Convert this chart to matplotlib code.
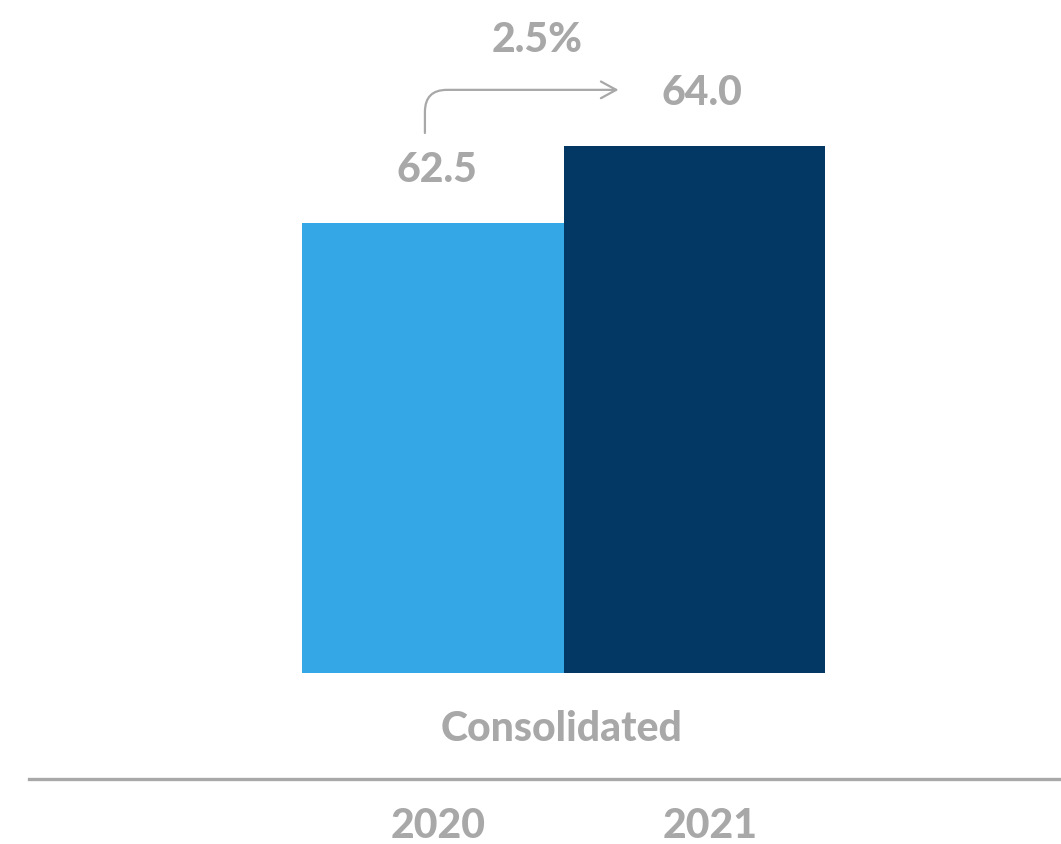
import matplotlib.pyplot as plt
from matplotlib.lines import Line2D
from matplotlib.transforms import blended_transform_factory

years = ["2020", "2021"]
values = [62.5, 64.0]
change_label = "2.5%"
group_label = "Consolidated"

BLUE = "#34a7e6"
NAVY = "#033864"
GRAY = "#a8a8a8"

# bars sit on a truncated baseline
base = 53.73

fig = plt.figure(figsize=(10.61, 8.45), dpi=100)
ax = fig.add_axes([0, (845 - 674) / 845, 1, 674 / 845])
ax.set_xlim(-1.651, 2.399)
ax.set_ylim(base, base + 13.13)
ax.axis("off")

pos = [0, 1]
ax.bar(pos, [v - base for v in values], bottom=base, width=1.0,
       color=[BLUE, NAVY], align="center")

font = dict(family="Lato", weight="black", color=GRAY, fontsize=29.5)

ax.text(pos[0] + 0.015, values[0] + 1.05, f"{values[0]:.1f}", ha="center", va="center", **font)
ax.text(pos[1] + 0.03, values[1] + 1.05, f"{values[1]:.1f}", ha="center", va="center", **font)
ax.text(0.40, values[1] + 2.08, change_label, ha="center", va="center", **font)

# change arrow: up from the 2020 label, then across towards 2021
ax.annotate("", xy=(0.71, values[1] + 1.09), xytext=(-0.029, values[0] + 1.75),
            arrowprops=dict(arrowstyle="->,head_length=1.1,head_width=0.6",
                            connectionstyle="angle,angleA=90,angleB=0,rad=22",
                            color=GRAY, lw=1.6, shrinkA=0, shrinkB=0))

fig.text(562 / 1061, (845 - 729) / 845, group_label, ha="center", va="center", **font)

fig.add_artist(Line2D([29 / 1061, 1.0], [(845 - 780) / 845] * 2,
                      transform=fig.transFigure, color=GRAY, lw=2.4))

trans = blended_transform_factory(ax.transData, fig.transFigure)
ax.text(pos[0] + 0.02, (845 - 826) / 845, years[0], transform=trans,
        ha="center", va="center", clip_on=False, **font)
ax.text(pos[1] + 0.06, (845 - 826) / 845, years[1], transform=trans,
        ha="center", va="center", clip_on=False, **font)

fig.savefig("out.png", dpi=100, facecolor="white")
